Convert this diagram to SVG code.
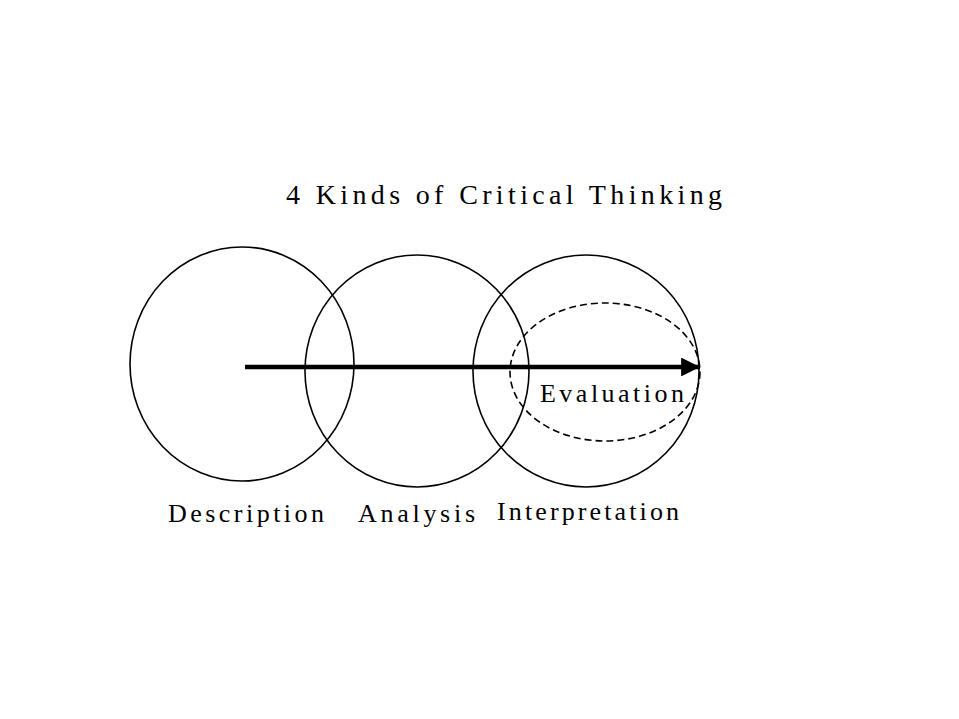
<svg xmlns="http://www.w3.org/2000/svg" width="959" height="719" viewBox="0 0 959 719">
<style>
.c{fill:none;stroke:#000;stroke-width:1.6}
.d{fill:none;stroke:#000;stroke-width:1.6;stroke-dasharray:7 4}
text{font-family:"Liberation Serif","Times New Roman",serif;fill:#000}
.t{font-size:28px}
.l{font-size:26px}
</style>
<defs>
<marker id="ah" viewBox="0 0 10 10" refX="10" refY="5" markerWidth="5" markerHeight="4.2" markerUnits="strokeWidth" orient="auto">
<path d="M0,0 L10,5 L0,10 Z" fill="#000"/>
</marker>
</defs>
<rect width="959" height="719" fill="#fff"/>
<g id="title"><text class="t" x="286" y="204" textLength="436" lengthAdjust="spacing">4 Kinds of Critical Thinking</text></g>
<g id="description">
<ellipse class="c" cx="242" cy="364" rx="112" ry="117"/>
<text class="l" x="168" y="522" textLength="156" lengthAdjust="spacing">Description</text>
</g>
<g id="analysis">
<ellipse class="c" cx="417" cy="371" rx="112" ry="116"/>
<text class="l" x="358" y="522" textLength="117" lengthAdjust="spacing">Analysis</text>
</g>
<g id="interpretation">
<ellipse class="c" cx="586" cy="371" rx="113" ry="116"/>
<text class="l" x="497" y="520" textLength="182" lengthAdjust="spacing">Interpretation</text>
</g>
<g id="evaluation">
<ellipse class="d" cx="605" cy="372" rx="95" ry="69"/>
<text class="l" x="540" y="402" textLength="144" lengthAdjust="spacing">Evaluation</text>
</g>
<g id="connectors">
<line x1="245" y1="367" x2="700" y2="367" stroke="#000" stroke-width="4.5" marker-end="url(#ah)"/>
</g>
</svg>
